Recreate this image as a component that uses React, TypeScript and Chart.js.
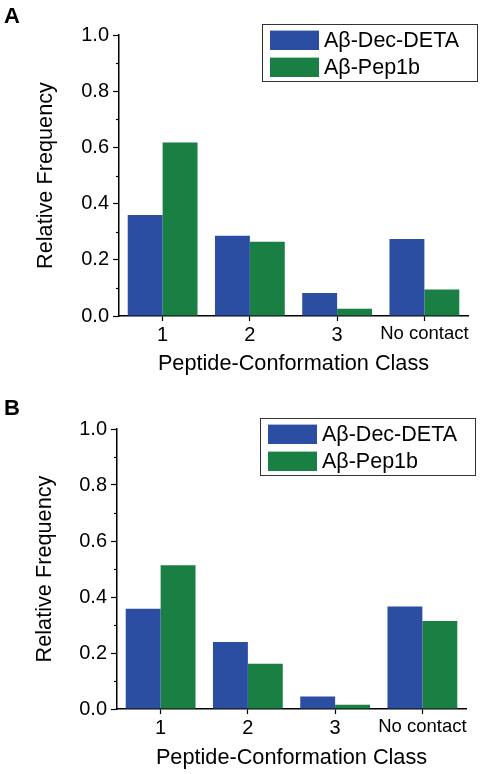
import React, { useEffect, useRef } from 'react';
import { Chart, registerables } from 'chart.js';

Chart.register(...registerables);

// ---- data ----
const categories = ['1', '2', '3', 'No contact'];
const seriesNames = ['Aβ-Dec-DETA', 'Aβ-Pep1b'];
const panelA_DecDETA = [0.359, 0.286, 0.082, 0.274];
const panelA_Pep1b = [0.617, 0.264, 0.026, 0.094];
const panelB_DecDETA = [0.358, 0.239, 0.045, 0.366];
const panelB_Pep1b = [0.513, 0.162, 0.015, 0.314];
const yMinorTicks = [0.1, 0.3, 0.5, 0.7, 0.9];
const xTitle = 'Peptide-Conformation Class';
const yTitle = 'Relative Frequency';

const BLUE = '#2C4EA2';
const GREEN = '#197F42';
const FONT = '"Liberation Sans", Arial, Helvetica, sans-serif';

const decorPlugin = {
  id: 'decor',
  afterDraw(chart: any, _args: any, opts: any) {
    const { ctx, chartArea, scales } = chart;
    const y = scales.y;
    ctx.save();
    // minor ticks on y axis
    ctx.strokeStyle = '#000';
    ctx.lineWidth = 1.2;
    for (const v of yMinorTicks) {
      const py = Math.round(y.getPixelForValue(v)) + 0.5;
      ctx.beginPath();
      ctx.moveTo(chartArea.left - 3, py);
      ctx.lineTo(chartArea.left, py);
      ctx.stroke();
    }
    // panel letter
    ctx.fillStyle = '#000';
    ctx.font = `bold 22px ${FONT}`;
    ctx.textAlign = 'left';
    ctx.textBaseline = 'alphabetic';
    ctx.fillText(opts.letter, opts.letterX, opts.letterY);
    // legend box
    const bw = 215;
    const bh = 57;
    const bx = chartArea.right + 9 - bw;
    const by = chartArea.top - 11;
    ctx.fillStyle = '#fff';
    ctx.fillRect(bx, by, bw, bh);
    ctx.strokeStyle = '#333';
    ctx.lineWidth = 1;
    ctx.strokeRect(Math.round(bx) + 0.5, Math.round(by) + 0.5, bw, bh);
    ctx.font = `21.5px ${FONT}`;
    ctx.textBaseline = 'middle';
    chart.data.datasets.forEach((ds: any, i: number) => {
      const sy = by + 6.6 + i * 27;
      ctx.fillStyle = ds.backgroundColor;
      ctx.fillRect(bx + 8, sy, 49, 19.4);
      ctx.fillStyle = '#000';
      ctx.fillText(ds.label, bx + 62, sy + 10.5);
    });
    ctx.restore();
  },
};

type PanelProps = {
  letter: string;
  dec: number[];
  pep: number[];
  padTop: number;
  padRight: number;
  axisWidth: number;
  axisHeight: number;
  xTitlePad: number;
  yTitlePad: number;
  letterX: number;
  letterY: number;
};

function Panel(p: PanelProps) {
  const ref = useRef<HTMLCanvasElement | null>(null);
  useEffect(() => {
    if (!ref.current) return;
    const chart = new Chart(ref.current, {
      type: 'bar',
      data: {
        labels: categories,
        datasets: [
          { label: seriesNames[0], data: p.dec, backgroundColor: BLUE, borderWidth: 0, categoryPercentage: 0.8, barPercentage: 1.0 },
          { label: seriesNames[1], data: p.pep, backgroundColor: GREEN, borderWidth: 0, categoryPercentage: 0.8, barPercentage: 1.0 },
        ],
      },
      options: {
        animation: false,
        responsive: false,
        maintainAspectRatio: false,
        layout: { padding: { top: p.padTop, right: p.padRight, left: 0, bottom: 0 } },
        plugins: {
          legend: { display: false },
          tooltip: { enabled: false },
          decor: { letter: p.letter, letterX: p.letterX, letterY: p.letterY },
        } as any,
        scales: {
          x: {
            offset: true,
            grid: { display: true, drawOnChartArea: false, drawTicks: true, tickLength: 5, tickColor: '#000', tickWidth: 1.2, offset: false },
            border: { display: true, color: '#000', width: 1.5 },
            ticks: {
              color: '#000', padding: 2, maxRotation: 0, autoSkip: false,
              font: (c: any) => ({ family: FONT, size: c.index === 3 ? 18.5 : 20 }),
            },
            title: { display: true, text: xTitle, color: '#000', font: { family: FONT, size: 21.7 }, padding: { top: 0, bottom: p.xTitlePad } },
            afterFit: (s: any) => { s.height = p.axisHeight; },
          },
          y: {
            min: 0,
            max: 1,
            ticks: { stepSize: 0.2, color: '#000', padding: 4, font: { family: FONT, size: 20 }, callback: (v: any) => Number(v).toFixed(1) },
            grid: { display: true, drawOnChartArea: false, drawTicks: true, tickLength: 6, tickColor: '#000', tickWidth: 1.2 },
            border: { display: true, color: '#000', width: 1.5 },
            title: { display: true, text: yTitle, color: '#000', font: { family: FONT, size: 21.7 }, padding: { top: p.yTitlePad, bottom: 0 } },
            afterFit: (s: any) => { s.width = p.axisWidth; },
          },
        },
      } as any,
      plugins: [decorPlugin],
    });
    return () => chart.destroy();
  }, []);
  return <canvas ref={ref} width={482} height={387} style={{ display: 'block', width: 482, height: 387 }} />;
}

export default function App() {
  return (
    <div style={{ position: 'absolute', left: 0, top: 0, width: 482, height: 774, background: '#fff' }}>
      <Panel letter="A" dec={panelA_DecDETA} pep={panelA_Pep1b} padTop={35} padRight={14} axisWidth={119} axisHeight={71} xTitlePad={10} yTitlePad={33} letterX={4} letterY={23} />
      <Panel letter="B" dec={panelB_DecDETA} pep={panelB_Pep1b} padTop={42} padRight={16} axisWidth={117} axisHeight={65} xTitlePad={3} yTitlePad={32} letterX={4} letterY={28} />
    </div>
  );
}
